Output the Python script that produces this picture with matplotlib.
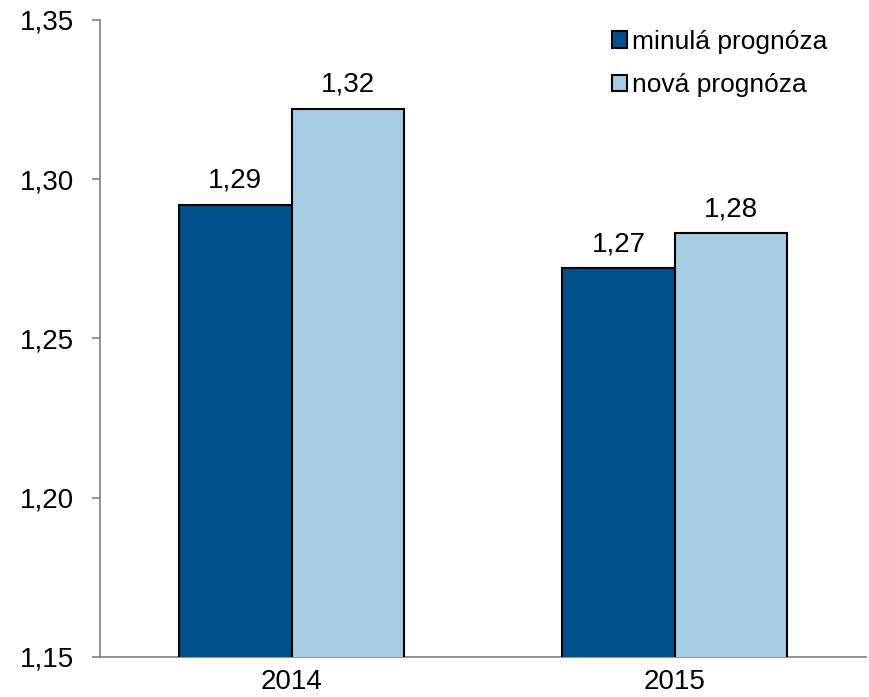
import matplotlib.pyplot as plt
import numpy as np
from matplotlib.ticker import FuncFormatter

plt.rcParams['font.family'] = ['Liberation Sans', 'DejaVu Sans']

years = ['2014', '2015']
old_forecast = [1.292, 1.272]
new_forecast = [1.322, 1.283]
labels_old = ['1,29', '1,27']
labels_new = ['1,32', '1,28']

fig = plt.figure(figsize=(8.69, 6.97), dpi=100)
ax = fig.add_axes([0.1151, 0.0574, 0.8815, 0.914])

x = np.arange(len(years))
w = 0.293

b1 = ax.bar(x - w / 2, old_forecast, w, color='#00508C', edgecolor='black',
            linewidth=1.5, label='minulá prognóza', zorder=3)
b2 = ax.bar(x + w / 2, new_forecast, w, color='#A6CDE4', edgecolor='black',
            linewidth=1.5, label='nová prognóza', zorder=3)

# value labels above bars
for rect, lab in zip(b1, labels_old):
    ax.text(rect.get_x() + rect.get_width() / 2, rect.get_height() + 0.0035, lab,
            ha='center', va='bottom', fontsize=20)
for rect, lab in zip(b2, labels_new):
    ax.text(rect.get_x() + rect.get_width() / 2, rect.get_height() + 0.0035, lab,
            ha='center', va='bottom', fontsize=20)

ax.set_ylim(1.15, 1.35)
ax.set_xlim(-0.5, 1.5)
ax.set_yticks(np.arange(1.15, 1.351, 0.05))
ax.yaxis.set_major_formatter(FuncFormatter(lambda v, p: f'{v:.2f}'.replace('.', ',')))
ax.set_xticks(x)
ax.set_xticklabels(years)
ax.tick_params(axis='y', labelsize=20, length=6, color='#808080', width=1.2, pad=13)
ax.tick_params(axis='x', labelsize=20, length=0, pad=9)

for s in ['top', 'right']:
    ax.spines[s].set_visible(False)
for s in ['left', 'bottom']:
    ax.spines[s].set_color('#808080')
    ax.spines[s].set_linewidth(1.2)

ax.legend(loc='upper left', bbox_to_anchor=(0.704, 0.957), bbox_transform=fig.transFigure,
          frameon=False, fontsize=19, borderaxespad=0, borderpad=0,
          handlelength=0.58, handleheight=0.58, handletextpad=0.2, labelspacing=0.74)

fig.savefig('out.png', dpi=100)
